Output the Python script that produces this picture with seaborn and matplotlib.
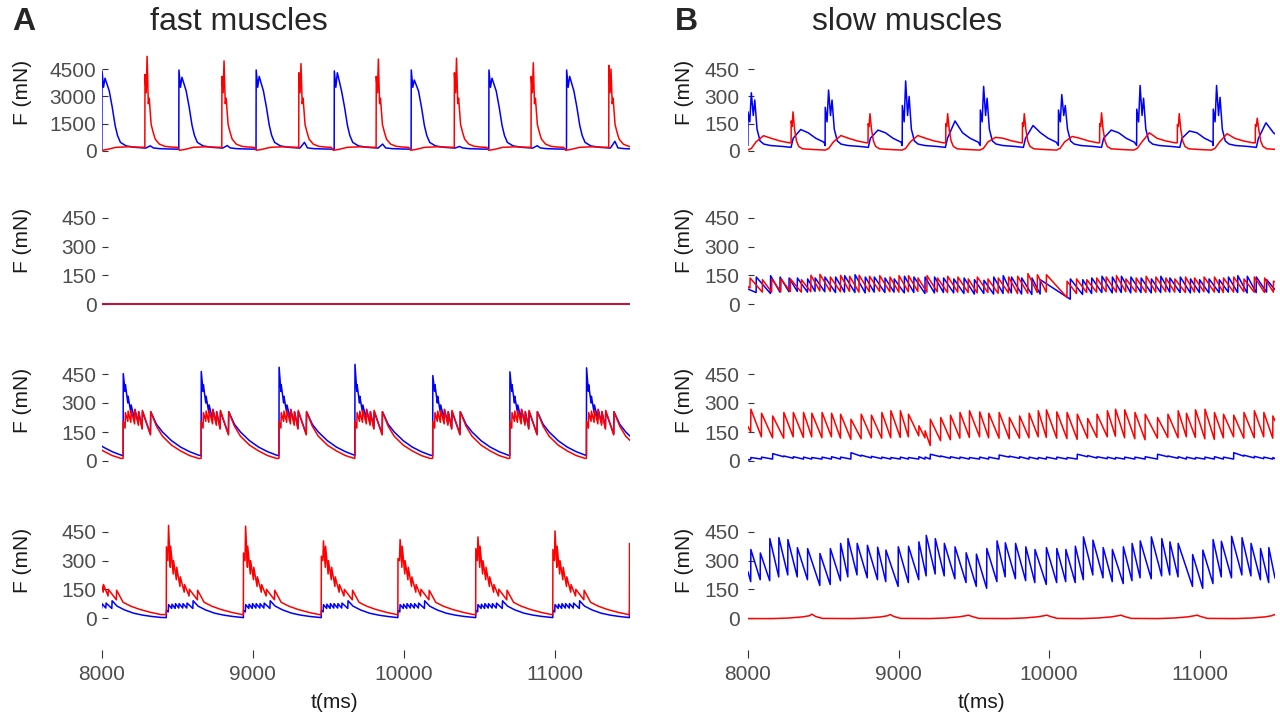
# Muscle force traces, fast vs slow muscles (8 panels)
import numpy as np
import pandas as pd
import matplotlib
matplotlib.use("Agg")
import matplotlib.pyplot as plt
import seaborn as sns

sns.set_theme(style="white")
plt.rcParams['font.family'] = ['Liberation Sans', 'DejaVu Sans']

BLUE = '#0000FF'
RED = '#FF0000'

# ---------------- data (t in ms, F in mN) ----------------
# A, row 1: bursts, one template per burst, peak values per burst
a1_blue_on = [8000, 8510, 9022, 9540, 10050, 10565, 11080]
a1_blue_p1 = [4400, 4450, 4450, 4400, 4450, 4450, 4450]
a1_blue_p2 = [4000, 4050, 4100, 4300, 3900, 4000, 4100]
a1_blue_bump = [285, 300, 475, 380, 250, 290, 530]
a1_blue_offs = [-1, 0, 10, 20, 48, 68, 87, 103, 122, 160, 220, 290, 320, 340, 380, 450]
a1_blue_vals = [100, 'p1', 3500, 'p2', 3300, 2400, 1400, 850, 475, 280, 200, 160, 'bump', 170, 130, 110]

a1_red_on = [7772, 8285, 8795, 9305, 9818, 10336, 10845, 11360]
a1_red_p1 = [4200, 4200, 4100, 4300, 4100, 4300, 4100, 4700]
a1_red_p2 = [5000, 5200, 4950, 4800, 5050, 5100, 4850, 4500]
a1_red_offs = [-1, 0, 8, 14, 22, 28, 41, 55, 68, 95, 130, 170, 215, 228, 260, 320, 400, 480]
a1_red_vals = [200, 'p1', 3200, 'p2', 2600, 2900, 1450, 1000, 650, 380, 260, 220, 200, 40, 80, 200, 230, 210]

# A, row 2: flat
a2_t = [8000, 11500]
a2_blue = [0, 0]
a2_red = [0, 0]

# A, row 3
a3_on = [7628, 8141, 8658, 9174, 9677, 10193, 10704, 11212]
a3_blue_p1 = [450, 452, 463, 485, 500, 442, 461, 482]
a3_blue_offs = [-1, 0, 12, 14, 30, 32, 50, 52, 75, 77, 100, 102, 125, 127, 180, 182, 220, 260, 320, 380, 440, 500]
a3_blue_vals = [28, 'p1', 360, 395, 300, 335, 250, 290, 215, 265, 195, 255, 170, 255, 140, 255, 190, 150, 105, 72, 48, 30]
a3_red_offs = [-1, 0, 12, 14, 30, 32, 50, 52, 75, 77, 100, 102, 125, 127, 180, 182, 220, 260, 320, 380, 440, 500]
a3_red_vals = [14, 205, 170, 250, 205, 258, 200, 262, 192, 268, 185, 255, 165, 262, 135, 255, 180, 128, 82, 52, 28, 13]

# A, row 4
a4_on = [7890, 8427, 8938, 9454, 9962, 10478, 10989, 11497]
a4_red_p1 = [360, 372, 340, 323, 311, 363, 358, 390]
a4_red_p2 = [470, 484, 480, 403, 410, 424, 455, 390]
a4_red_offs = [-1, 0, 10, 14, 26, 28, 45, 47, 66, 68, 90, 92, 118, 120, 150, 152, 205, 207, 250, 300, 360, 430, 500]
a4_red_vals = [18, 'p1', 300, 'p2', 265, 375, 230, 300, 200, 265, 165, 215, 135, 175, 115, 150, 95, 145, 82, 62, 45, 30, 18]
a4_blue_offs = [-1, 0, 12, 14, 35, 37, 58, 60, 82, 84, 108, 110, 135, 137, 175, 177, 210, 260, 320, 380, 440, 500]
a4_blue_vals = [2, 40, 32, 70, 50, 72, 50, 75, 52, 75, 52, 75, 52, 78, 50, 90, 62, 42, 25, 15, 8, 3]

# B, row 1
b1_blue_on = [8000, 8513, 9025, 9543, 10062, 10582, 11090]
b1_blue_p1 = [215, 240, 250, 225, 225, 230, 230]
b1_blue_p2 = [320, 335, 385, 355, 310, 360, 360]
b1_blue_p3 = [280, 280, 300, 290, 250, 290, 295]
b1_blue_hump = [118, 115, 165, 140, 115, 110, 155]
b1_blue_offs = [-1, 0, 12, 22, 35, 45, 60, 80, 105, 150, 230, 286, 300, 350, 400, 450, 505]
b1_blue_vals = [30, 'p1', 160, 'p2', 195, 'p3', 120, 55, 38, 30, 25, 20, 70, 'hump', 100, 70, 48]

b1_red_on = [7773, 8287, 8798, 9314, 9823, 10336, 10852, 11370]
b1_red_p1 = [165, 165, 150, 150, 155, 150, 145, 145]
b1_red_p2 = [215, 215, 205, 205, 205, 210, 205, 180]
b1_red_hump = [84, 85, 85, 75, 80, 100, 95, 90]
b1_red_offs = [-1, 0, 6, 12, 22, 35, 50, 75, 150, 226, 250, 280, 330, 380, 440, 500]
b1_red_vals = [45, 'p1', 135, 'p2', 120, 55, 25, 12, 8, 5, 15, 50, 'hump', 70, 55, 45]

# B, row 2: sawtooth (tooth time, peak, value just before the tooth)
b2_red_t = [8014, 8096, 8158, 8219, 8282, 8355, 8418, 8478, 8547, 8615,
            8675, 8738, 8807, 8875, 8943, 9003, 9066, 9129, 9189, 9258,
            9326, 9394, 9463, 9523, 9594, 9662, 9731, 9791, 9859, 9922,
            9982, 10119, 10182, 10250, 10316, 10379, 10447, 10510, 10578, 10644,
            10709, 10775, 10835, 10906, 10966, 11029, 11098, 11158, 11226, 11294,
            11363, 11431, 11490]
b2_red_pk = [136, 127, 131, 131, 131, 127, 150, 155, 141, 150,
             145, 150, 145, 148, 141, 148, 148, 136, 148, 136,
             145, 141, 131, 141, 131, 136, 141, 145, 159, 153,
             153, 119, 131, 127, 136, 141, 148, 131, 136, 145,
             141, 136, 131, 141, 136, 141, 141, 136, 141, 131,
             141, 136, 119]
b2_red_tr = [84, 62, 62, 64, 65, 62, 64, 68, 66, 64,
             66, 62, 64, 66, 64, 62, 64, 66, 62, 64,
             60, 62, 60, 58, 60, 56, 58, 55, 56, 60,
             62, 35, 55, 60, 62, 64, 62, 64, 62, 60,
             62, 64, 62, 60, 62, 64, 62, 60, 62, 64,
             62, 60, 62]
b2_blue_t = [8055, 8150, 8213, 8273, 8328, 8396, 8446, 8511, 8582, 8642,
             8711, 8779, 8839, 8910, 8971, 9039, 9102, 9176, 9239, 9299,
             9367, 9435, 9504, 9567, 9632, 9695, 9750, 9818, 9886, 9941,
             10141, 10223, 10283, 10351, 10420, 10480, 10543, 10611, 10679, 10742,
             10802, 10871, 10939, 10999, 11062, 11130, 11191, 11253, 11316, 11376,
             11445]
b2_blue_pk = [141, 148, 141, 136, 136, 131, 136, 141, 141, 148,
              153, 141, 141, 136, 131, 145, 141, 141, 141, 136,
              131, 136, 127, 124, 141, 148, 141, 136, 136, 127,
              131, 127, 136, 145, 141, 145, 141, 136, 131, 145,
              136, 141, 131, 127, 131, 127, 141, 148, 145, 141,
              127]
b2_blue_tr = [60, 55, 62, 64, 66, 62, 66, 64, 60, 62,
              60, 58, 62, 60, 62, 58, 60, 55, 58, 60,
              58, 55, 52, 55, 52, 55, 58, 52, 50, 52,
              25, 50, 55, 60, 58, 60, 58, 60, 58, 60,
              62, 60, 58, 60, 58, 60, 62, 60, 58, 60,
              62]

# B, row 3
b3_t = [8019, 8090, 8164, 8238, 8301, 8369, 8424, 8492, 8555, 8615,
        8684, 8752, 8820, 8889, 8949, 9012, 9066, 9135, 9176, 9211,
        9280, 9345, 9408, 9471, 9539, 9599, 9668, 9736, 9804, 9867,
        9928, 9982, 10051, 10119, 10187, 10256, 10318, 10387, 10441, 10502,
        10570, 10638, 10720, 10789, 10857, 10912, 10972, 11035, 11098, 11158,
        11226, 11294, 11363, 11426, 11486]
b3_red_pk = [268, 247, 233, 251, 251, 251, 247, 251, 247, 242,
             216, 242, 237, 251, 260, 260, 242, 182, 156, 216,
             225, 237, 251, 260, 254, 247, 251, 225, 233, 247,
             260, 265, 254, 251, 242, 220, 242, 260, 268, 265,
             251, 242, 225, 242, 260, 247, 265, 268, 251, 242,
             237, 251, 260, 251, 233]
b3_red_tr = [150, 125, 120, 118, 125, 122, 125, 120, 125, 118,
             112, 115, 120, 118, 120, 122, 125, 130, 120, 80,
             105, 110, 118, 122, 125, 120, 118, 115, 118, 120,
             125, 122, 118, 116, 112, 118, 122, 125, 128, 120,
             115, 110, 118, 122, 120, 125, 122, 115, 112, 120,
             125, 118, 120, 125, 118]
b3_blue_pk = [18, 20, 38, 26, 22, 20, 18, 20, 22, 20,
              43, 30, 24, 20, 18, 20, 18, 22, 20, 35,
              26, 22, 20, 18, 20, 20, 31, 25, 22, 20,
              18, 20, 20, 18, 35, 28, 22, 20, 18, 20,
              20, 22, 35, 26, 22, 20, 18, 20, 22, 20,
              43, 30, 24, 20, 18]
b3_blue_tr = [8, 10, 10, 22, 14, 10, 10, 10, 10, 10,
              10, 25, 16, 12, 10, 10, 10, 10, 10, 10,
              22, 14, 12, 10, 10, 10, 10, 20, 14, 10,
              10, 10, 10, 10, 10, 22, 15, 12, 10, 10,
              10, 10, 10, 22, 14, 10, 10, 10, 10, 10,
              10, 25, 16, 12, 10]

# B, row 4
b4_blue_t = [8019, 8082, 8145, 8205, 8265, 8328, 8396, 8478, 8547, 8615,
             8664, 8725, 8793, 8861, 8916, 8998, 9066, 9135, 9184, 9244,
             9304, 9375, 9449, 9517, 9586, 9654, 9709, 9777, 9845, 9906,
             9982, 10051, 10111, 10174, 10228, 10291, 10359, 10420, 10493, 10551,
             10605, 10679, 10748, 10802, 10857, 10953, 11021, 11089, 11144, 11212,
             11281, 11341, 11404, 11459]
b4_blue_pk = [358, 340, 415, 420, 410, 368, 363, 337, 363, 390,
              415, 390, 380, 370, 355, 372, 375, 398, 432, 415,
              390, 372, 341, 334, 363, 403, 393, 390, 372, 358,
              368, 363, 358, 375, 424, 407, 368, 358, 372, 390,
              403, 424, 415, 398, 390, 332, 355, 410, 401, 427,
              420, 390, 363, 368]
b4_blue_tr = [190, 200, 195, 215, 225, 215, 200, 170, 175, 195,
              215, 225, 210, 200, 190, 165, 185, 200, 220, 230,
              220, 205, 185, 165, 155, 190, 215, 205, 195, 185,
              175, 185, 190, 185, 200, 225, 210, 190, 180, 195,
              210, 205, 220, 225, 215, 165, 155, 180, 215, 210,
              225, 220, 200, 185]
b4_red_hump_t = [8424, 8944, 9463, 9983, 10475, 10981, 11495]
b4_red_hump = [20, 18, 15, 15, 15, 15, 18]
b4_red_offs = [-260, -150, -60, -15, 0, 25, 70]
b4_red_vals = [-3, 0, 6, 12, 'hump', 8, -2]


def bursts(onsets, offs, vals, **per):
    t, f = [], []
    for k, t0 in enumerate(onsets):
        for o, v in zip(offs, vals):
            t.append(t0 + o)
            f.append(per[v][k] if isinstance(v, str) else v)
    return t, f


def saw(times, peaks, troughs, start, end):
    t, f = [start[0]], [start[1]]
    for ti, p, tr in zip(times, peaks, troughs):
        t += [ti - 1, ti]
        f += [tr, p]
    t.append(end[0])
    f.append(end[1])
    return t, f


def draw(ax, t, f, color):
    df = pd.DataFrame({'t': t, 'F': f})
    sns.lineplot(data=df, x='t', y='F', ax=ax, color=color, lw=1.1,
                 estimator=None, sort=False)


W, H = 1280, 716
fig = plt.figure(figsize=(12.8, 7.16), dpi=100)

cols = [(102, 630), (748, 1275)]
rows = [(50, 170), (205, 325), (362, 482), (520, 650)]
# (zero pixel, pixels per 150 mN) for each row
ymap = [(151, 27.3), (304, 28.7), (461, 29.0), (618, 28.7)]
label_y = [92, 240, 400, 560]
label_x = [22, 684]

axes = [[None] * 2 for _ in range(4)]
for r, (top, bot) in enumerate(rows):
    for c, (x0, x1) in enumerate(cols):
        ax = fig.add_axes([x0 / W, 1 - bot / H, (x1 - x0) / W, (bot - top) / H])
        axes[r][c] = ax

# ---- panel A ----
draw(axes[0][0], *bursts(a1_blue_on, a1_blue_offs, a1_blue_vals,
                         p1=a1_blue_p1, p2=a1_blue_p2, bump=a1_blue_bump), BLUE)
draw(axes[0][0], *bursts(a1_red_on, a1_red_offs, a1_red_vals,
                         p1=a1_red_p1, p2=a1_red_p2), RED)
draw(axes[1][0], a2_t, a2_blue, BLUE)
draw(axes[1][0], a2_t, a2_red, RED)
draw(axes[2][0], *bursts(a3_on, a3_blue_offs, a3_blue_vals, p1=a3_blue_p1), BLUE)
draw(axes[2][0], *bursts(a3_on, a3_red_offs, a3_red_vals), RED)
draw(axes[3][0], *bursts(a4_on, a4_blue_offs, a4_blue_vals), BLUE)
draw(axes[3][0], *bursts(a4_on, a4_red_offs, a4_red_vals,
                         p1=a4_red_p1, p2=a4_red_p2), RED)

# ---- panel B ----
draw(axes[0][1], *bursts(b1_blue_on, b1_blue_offs, b1_blue_vals,
                         p1=b1_blue_p1, p2=b1_blue_p2, p3=b1_blue_p3,
                         hump=b1_blue_hump), BLUE)
draw(axes[0][1], *bursts(b1_red_on, b1_red_offs, b1_red_vals,
                         p1=b1_red_p1, p2=b1_red_p2, hump=b1_red_hump), RED)
draw(axes[1][1], *saw(b2_blue_t, b2_blue_pk, b2_blue_tr, (8000, 78), (11500, 75)), BLUE)
draw(axes[1][1], *saw(b2_red_t, b2_red_pk, b2_red_tr, (8000, 90), (11500, 116)), RED)
draw(axes[2][1], *saw(b3_t, b3_red_pk, b3_red_tr, (8000, 178), (11500, 208)), RED)
draw(axes[2][1], *saw(b3_t, b3_blue_pk, b3_blue_tr, (8000, 5), (11500, 12)), BLUE)
draw(axes[3][1], *saw(b4_blue_t, b4_blue_pk, b4_blue_tr, (8000, 242), (11500, 208)), BLUE)
hump_t, hump_f = bursts(b4_red_hump_t, b4_red_offs, b4_red_vals, hump=b4_red_hump)
draw(axes[3][1], [8000] + hump_t, [-3] + hump_f, RED)

# ---- axes styling ----
for r, (top, bot) in enumerate(rows):
    y0, s = ymap[r]
    for c in range(2):
        ax = axes[r][c]
        k = 10 if (r == 0 and c == 0) else 1
        ax.set_xlim(8000, 11500)
        ax.set_ylim(-(bot - y0) / s * 150 * k, (y0 - top) / s * 150 * k)
        ax.set_yticks([0, 1500 * k / 10 * 1, 3000 * k / 10, 4500 * k / 10])
        ax.set_yticklabels([str(int(v)) for v in [0, 150 * k, 300 * k, 450 * k]])
        for sp in ax.spines.values():
            sp.set_visible(False)
        ax.grid(False)
        ax.tick_params(axis='y', direction='in', length=4, width=0.8, color='#333333',
                       labelsize=15, labelcolor='#4D4D4D', pad=4 if c == 0 else 6, left=True)
        ax.set_ylabel('F (mN)', fontsize=15, color='#1a1a1a', va='center')
        ax.yaxis.set_label_coords(label_x[c] / W, 1 - label_y[r] / H, transform=fig.transFigure)
        if r < 3:
            ax.set_xticks([])
            ax.set_xlabel('')
        else:
            ax.set_xticks([8000, 9000, 10000, 11000])
            ax.set_xticklabels(['8000', '9000', '10000', '11000'])
            ax.tick_params(axis='x', direction='out', length=6, width=0.8, color='#333333',
                           labelsize=15, labelcolor='#4D4D4D', pad=5, bottom=True)
            ax.set_xlabel('t(ms)', fontsize=15, color='#1a1a1a', va='center')
            ax.xaxis.set_label_coords([334, 981][c] / W, 1 - 703 / H, transform=fig.transFigure)

fig.text(12 / W, 1 - 22 / H, 'A', fontsize=23, fontweight='bold', va='center', ha='left')
fig.text(675 / W, 1 - 22 / H, 'B', fontsize=23, fontweight='bold', va='center', ha='left')
fig.text(239 / W, 1 - 22 / H, 'fast muscles', fontsize=23, va='center', ha='center')
fig.text(907 / W, 1 - 22 / H, 'slow muscles', fontsize=23, va='center', ha='center')

fig.savefig('out.png', dpi=100)
